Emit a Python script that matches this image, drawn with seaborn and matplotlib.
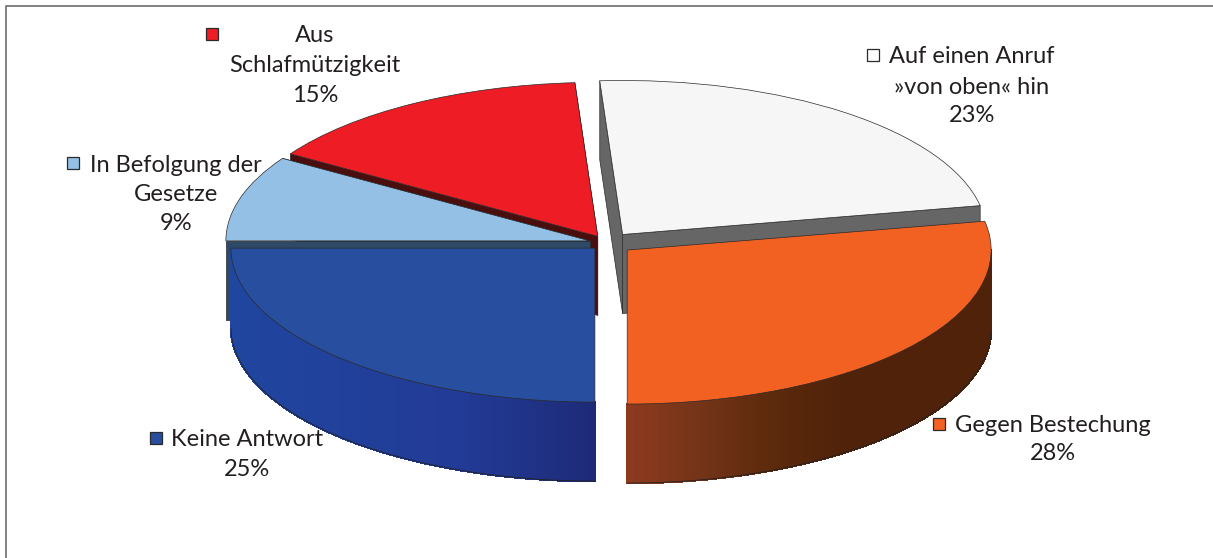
import numpy as np
import matplotlib
matplotlib.use("Agg")
import matplotlib.pyplot as plt
from matplotlib.collections import PolyCollection
from matplotlib.lines import Line2D
from matplotlib.colors import to_rgb
import seaborn as sns

# ---- data ----
categories = ["Auf einen Anruf\n»von oben« hin", "Gegen Bestechung", "Keine Antwort",
              "In Befolgung der\nGesetze", "Aus\nSchlafmützigkeit"]
values = [23, 28, 25, 9, 15]
top_colors = ["#f6f6f6", "#f26122", "#284f9f", "#95c0e6", "#ee1c25"]
face_colors = ["#666666", "#50220a", "#1f2a78", "#2e4a66", "#4a0e0e"]
explode = [0.07, 0.072, 0.047, 0.049, 0.05]

W, H = 1213, 558
sns.set_theme(style="white")
plt.rcParams["font.family"] = ["Lato", "DejaVu Sans"]

fig = plt.figure(figsize=(W / 100, H / 100), dpi=100, facecolor="white")
ax = fig.add_axes([0, 0, 1, 1])

# scale: px per data unit makes the pie a tilted ellipse
RX, RY, CX, CY, DEPTH = 364.0, 154.0, 607.0, 243.0, 79.0 / 154.0

wedges, _ = ax.pie(values, startangle=93.6, counterclock=False, explode=explode,
                   colors=sns.color_palette(top_colors),
                   wedgeprops=dict(edgecolor="#2a2a2a", linewidth=0.5))
ax.set_aspect("auto")
ax.set_xlim(-CX / RX, (W - CX) / RX)
ax.set_ylim(-(H - CY) / RY, CY / RY)
ax.axis("off")


def rim(w, ang):
    return (w.center[0] + w.r * np.cos(np.radians(ang)),
            w.center[1] + w.r * np.sin(np.radians(ang)))


def radial_faces(w, color, z):
    """Extruded cut faces of one wedge."""
    cx, cy = w.center
    polys = []
    for ang in (w.theta1, w.theta2):
        x, y = rim(w, ang)
        polys.append([(cx, cy), (x, y), (x, y - DEPTH), (cx, cy - DEPTH)])
    ax.add_collection(PolyCollection(polys, facecolors=color, edgecolors="#2a2a2a",
                                     linewidths=0.5, zorder=z))


def outer_wall(w, stops_x, stops_c, z):
    """Outer rim of a wedge with a left-to-right shading."""
    lo, hi = sorted((w.theta1, w.theta2))
    angs = np.linspace(lo, hi, 160)
    rgb = np.array([to_rgb(c) for c in stops_c])
    polys, cols = [], []
    for a0, a1 in zip(angs[:-1], angs[1:]):
        x0, y0 = rim(w, a0)
        x1, y1 = rim(w, a1)
        if min(y0, y1) > w.center[1] + 1e-9:
            continue
        polys.append([(x0, y0), (x1, y1), (x1, y1 - DEPTH), (x0, y0 - DEPTH)])
        t = (x0 + x1) / 2
        cols.append([np.interp(t, stops_x, rgb[:, i]) for i in range(3)])
    ax.add_collection(PolyCollection(polys, facecolors=cols, edgecolors="face",
                                     linewidths=1.0, antialiaseds=False, zorder=z))
    xy = np.array([rim(w, a) for a in angs])
    xy = xy[xy[:, 1] <= w.center[1] + 1e-9]
    ax.plot(xy[:, 0], xy[:, 1] - DEPTH, color="#222222", lw=0.6, zorder=z + 0.1)


# painter's order: back slices' cut faces, back tops, front walls, front tops
white_w, orange_w, blue_w, lblue_w, red_w = wedges
radial_faces(red_w, face_colors[4], 1.0)
radial_faces(white_w, face_colors[0], 1.1)
radial_faces(lblue_w, face_colors[3], 1.2)
lblue_w.set_zorder(2.0)
white_w.set_zorder(2.0)
red_w.set_zorder(2.1)

cx_b = blue_w.center[0]
outer_wall(blue_w, [cx_b - 1.0, cx_b - 0.35, cx_b - 0.1, cx_b],
           ["#2046a0", "#223a95", "#1f2f80", "#1e2a78"], 3.0)
cx_o = orange_w.center[0]
outer_wall(orange_w, [cx_o, cx_o + 0.2, cx_o + 0.4, cx_o + 0.6, cx_o + 1.0],
           ["#8f3a1f", "#743418", "#5c2a0c", "#50220a", "#50220a"], 3.0)
blue_w.set_zorder(4.0)
orange_w.set_zorder(4.0)


# ---- labels (pixel placement) ----
def fx(px):
    return px / W


def fy(py):
    return 1 - py / H


TEXT = "#231f20"
FS = 17
label_pos = [(972, [56, 87, 116], (873, 55)),
             (1053, [425, 454], (939, 424)),
             (247, [440, 470], (156, 438)),
             (176, [165, 194, 224], (73, 163)),
             (315, [36, 66, 95], (212, 34))]

for cat, val, col, (xc, ys, key) in zip(categories, values, top_colors, label_pos):
    lines = cat.split("\n") + [f"{val}%"]
    for line, y in zip(lines, ys):
        fig.text(fx(xc), fy(y), line, ha="center", va="center", fontsize=FS, color=TEXT)
    fig.add_artist(Line2D([fx(key[0])], [fy(key[1])], marker="s", markersize=9.2,
                          markerfacecolor=("white" if col == "#f6f6f6" else col),
                          markeredgecolor="#2a2a2a", markeredgewidth=0.9, linestyle="none"))

# open frame clipped at right and bottom
fig.add_artist(Line2D([fx(6), fx(6), fx(W)], [fy(H), fy(6), fy(6)], color="#777777", lw=1.3))

fig.savefig("out.png", dpi=100, facecolor="white")
